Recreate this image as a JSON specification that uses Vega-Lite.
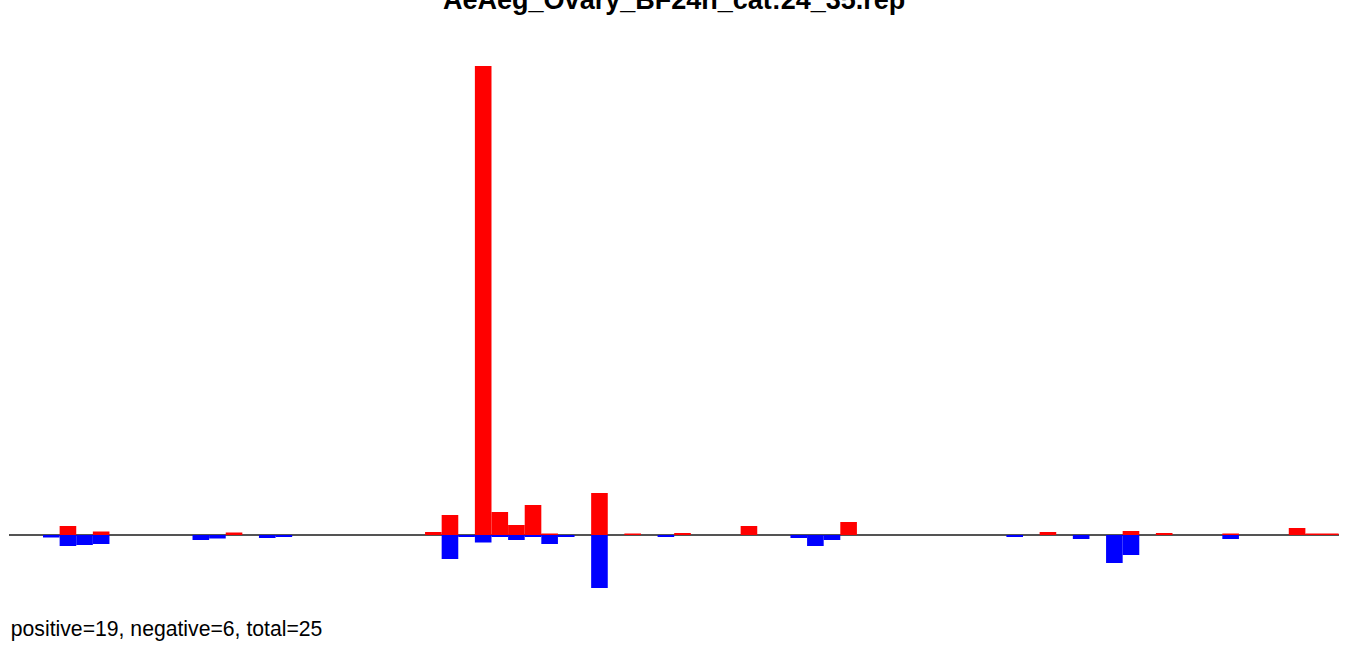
{
  "$schema": "https://vega.github.io/schema/vega-lite/v6.json",
  "autosize": "none",
  "width": 1328.8,
  "height": 560,
  "padding": {"left": 9.8, "top": 40, "right": 11.4, "bottom": 45},
  "background": "white",
  "config": {"view": {"stroke": null}},
  "title": {
    "text": "AeAeg_Ovary_BF24h_cat:24_35.rep",
    "font": "Liberation Sans",
    "fontSize": 27,
    "fontWeight": "bold",
    "color": "black",
    "anchor": "middle",
    "frame": "group",
    "baseline": "bottom",
    "offset": 0,
    "dy": 2
  },
  "data": {
    "values": [
      {"bin": 3, "value": 9, "direction": "positive"},
      {"bin": 5, "value": 3.5, "direction": "positive"},
      {"bin": 13, "value": 2.5, "direction": "positive"},
      {"bin": 25, "value": 3, "direction": "positive"},
      {"bin": 26, "value": 20, "direction": "positive"},
      {"bin": 28, "value": 469, "direction": "positive"},
      {"bin": 29, "value": 23, "direction": "positive"},
      {"bin": 30, "value": 10, "direction": "positive"},
      {"bin": 31, "value": 30, "direction": "positive"},
      {"bin": 32, "value": 1.5, "direction": "positive"},
      {"bin": 35, "value": 42, "direction": "positive"},
      {"bin": 37, "value": 1.5, "direction": "positive"},
      {"bin": 40, "value": 2, "direction": "positive"},
      {"bin": 44, "value": 9, "direction": "positive"},
      {"bin": 50, "value": 13, "direction": "positive"},
      {"bin": 62, "value": 3, "direction": "positive"},
      {"bin": 67, "value": 4, "direction": "positive"},
      {"bin": 69, "value": 2, "direction": "positive"},
      {"bin": 73, "value": 1.5, "direction": "positive"},
      {"bin": 77, "value": 7, "direction": "positive"},
      {"bin": 78, "value": 1.5, "direction": "positive"},
      {"bin": 79, "value": 1.5, "direction": "positive"},
      {"bin": 2, "value": -2.5, "direction": "negative"},
      {"bin": 3, "value": -11, "direction": "negative"},
      {"bin": 4, "value": -10, "direction": "negative"},
      {"bin": 5, "value": -9, "direction": "negative"},
      {"bin": 11, "value": -5, "direction": "negative"},
      {"bin": 12, "value": -3.5, "direction": "negative"},
      {"bin": 15, "value": -3, "direction": "negative"},
      {"bin": 16, "value": -2, "direction": "negative"},
      {"bin": 26, "value": -24, "direction": "negative"},
      {"bin": 27, "value": -2, "direction": "negative"},
      {"bin": 28, "value": -7.5, "direction": "negative"},
      {"bin": 29, "value": -2, "direction": "negative"},
      {"bin": 30, "value": -5, "direction": "negative"},
      {"bin": 31, "value": -2, "direction": "negative"},
      {"bin": 32, "value": -9, "direction": "negative"},
      {"bin": 33, "value": -2, "direction": "negative"},
      {"bin": 35, "value": -53, "direction": "negative"},
      {"bin": 39, "value": -2, "direction": "negative"},
      {"bin": 47, "value": -3, "direction": "negative"},
      {"bin": 48, "value": -11, "direction": "negative"},
      {"bin": 49, "value": -5, "direction": "negative"},
      {"bin": 60, "value": -2, "direction": "negative"},
      {"bin": 64, "value": -4, "direction": "negative"},
      {"bin": 66, "value": -28, "direction": "negative"},
      {"bin": 67, "value": -20, "direction": "negative"},
      {"bin": 73, "value": -4, "direction": "negative"}
    ]
  },
  "encoding": {
    "x": {
      "field": "bin",
      "type": "quantitative",
      "scale": {"domain": [-0.5, 79.5], "nice": false, "zero": false, "padding": 0},
      "axis": {
        "domain": false,
        "ticks": false,
        "labels": false,
        "grid": false,
        "title": "positive=19, negative=6, total=25",
        "titleFont": "Liberation Sans",
        "titleFontSize": 21.2,
        "titleFontWeight": "normal",
        "titleColor": "black",
        "titleAnchor": "start",
        "titleAlign": "left",
        "titleBaseline": "alphabetic",
        "titleX": 0.5,
        "titleY": 35
      }
    },
    "y": {
      "field": "value",
      "type": "quantitative",
      "stack": null,
      "scale": {"domain": [-65, 495], "nice": false, "zero": false, "padding": 0},
      "axis": null
    }
  },
  "layer": [
    {
      "mark": {"type": "rule", "color": "#555555", "strokeWidth": 1},
      "encoding": {"y": {"datum": 0}, "x": {"value": 0}, "x2": {"value": 1328.8}}
    },
    {
      "mark": {"type": "bar", "width": 16.61, "cornerRadius": 0, "stroke": null},
      "encoding": {
        "color": {
          "field": "direction",
          "type": "nominal",
          "scale": {"domain": ["positive", "negative"], "range": ["#FF0000", "#0000FF"]},
          "legend": null
        }
      }
    }
  ]
}
